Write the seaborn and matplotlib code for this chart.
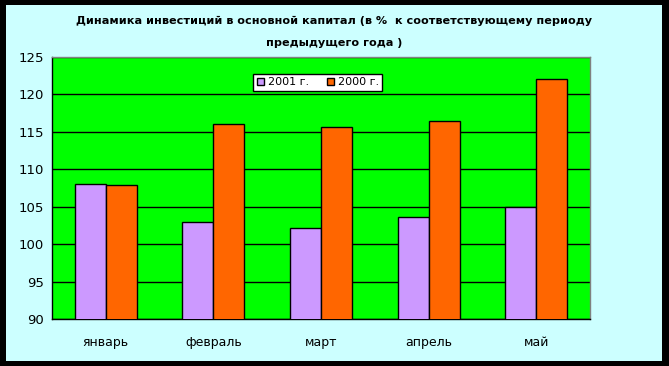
import pandas as pd
import matplotlib.pyplot as plt
import seaborn as sns
from matplotlib.patches import Rectangle

# Data
months = ['январь', 'февраль', 'март', 'апрель', 'май']
years = ['2001 г.', '2000 г.']
values_2001 = [108.1, 103.0, 102.1, 103.6, 105.0]
values_2000 = [107.9, 116.0, 115.7, 116.5, 122.1]
y_ticks = [90, 95, 100, 105, 110, 115, 120, 125]

df = pd.DataFrame({
    'month': months * 2,
    'year': [years[0]] * len(months) + [years[1]] * len(months),
    'value': values_2001 + values_2000,
})

sns.set_style('white')
plt.rcParams['font.family'] = ['DejaVu Sans']
plt.rcParams['text.color'] = 'black'
plt.rcParams['xtick.color'] = 'black'
plt.rcParams['ytick.color'] = 'black'

fig = plt.figure(figsize=(6.69, 3.66), dpi=100)
fig.patch.set_facecolor('black')
# light cyan chart area inside the black frame
fig.patches.append(Rectangle((6 / 669, 5 / 366), 656 / 669, 356 / 366,
                             transform=fig.transFigure, facecolor='#CCFFFF',
                             edgecolor='none', zorder=-10))

ax = fig.add_axes([52 / 669, 47 / 366, 538 / 669, 262 / 366])
ax.set_zorder(5)
ax.set_facecolor('#00FF00')

sns.barplot(data=df, x='month', y='value', hue='year', hue_order=years,
            palette=['#CC99FF', '#FF6600'], width=0.576, saturation=1,
            edgecolor='black', linewidth=1, ax=ax, zorder=3)

ax.set_ylim(90, 125)
ax.set_xlim(-0.5, len(months) - 0.5)
ax.set_yticks(y_ticks)
ax.yaxis.grid(True, color='black', linewidth=1)
ax.set_axisbelow(True)
ax.set_xlabel('')
ax.set_ylabel('')

ax.tick_params(axis='x', which='major', length=0, pad=12, labelsize=9)
ax.set_xticks([i - 0.5 for i in range(len(months) + 1)], minor=True)
ax.tick_params(axis='x', which='minor', length=4, direction='out', color='black')
ax.tick_params(axis='y', length=4, direction='out', color='black', labelsize=9.5, pad=2)

for side in ['left', 'bottom']:
    ax.spines[side].set_color('black')
    ax.spines[side].set_linewidth(1)
for side in ['top', 'right']:
    ax.spines[side].set_color('#808080')
    ax.spines[side].set_linewidth(1)

leg = ax.legend(loc='upper left', bbox_to_anchor=(0.374, 0.935), ncol=2,
                fontsize=8, frameon=True, fancybox=False, edgecolor='black',
                framealpha=1, handlelength=0.7, handleheight=0.7,
                handletextpad=0.3, columnspacing=1.6, borderpad=0.3,
                borderaxespad=0)
leg.get_frame().set_linewidth(1)

fig.text(0.5, 1 - 21 / 366,
         'Динамика инвестиций в основной капитал (в %  к соответствующему периоду',
         ha='center', va='center', fontsize=8.1, fontweight='bold', color='black')
fig.text(0.5, 1 - 43 / 366, 'предыдущего года )',
         ha='center', va='center', fontsize=8.1, fontweight='bold', color='black')

plt.savefig('out.png', dpi=100, facecolor=fig.get_facecolor())
